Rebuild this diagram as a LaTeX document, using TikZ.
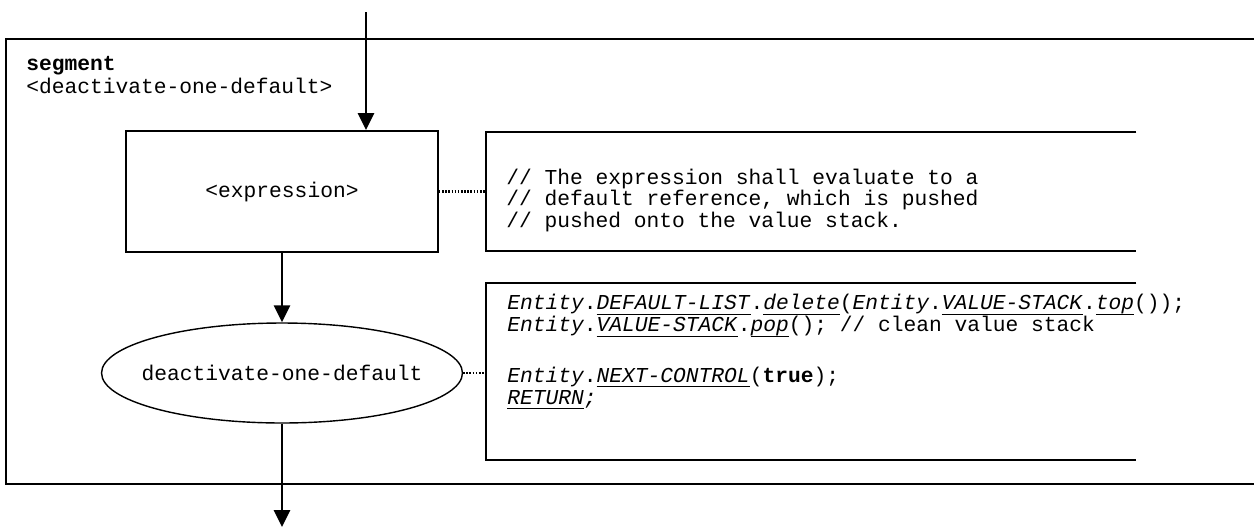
\documentclass[tikz,border=0pt]{standalone}
\usepackage{fontspec}
\setmonofont{Liberation Mono}
\usetikzlibrary{positioning,arrows.meta,shapes.geometric}

\newcommand{\ulit}[1]{\setbox0\hbox{\textit{#1}}\rlap{\smash{\rule[-3.1pt]{\wd0}{0.6pt}}}\box0}
\newcommand{\codefont}{\ttfamily\fontsize{12.1}{12.2}\selectfont\lineskiplimit=-20pt\relax}
\newcommand{\codefontwide}{\ttfamily\fontsize{12.1}{12.5}\selectfont\lineskiplimit=-20pt\relax}

\begin{document}
\frenchspacing
\begin{tikzpicture}[
			x=0.02cm, y=-0.02cm,
			font=\codefont,
			frame/.style={inner sep=0pt},
			process/.style={
				draw,
				line width=1pt,
				minimum width=6.24cm,
				minimum height=2.42cm,
				inner sep=0pt
			},
			action/.style={
				draw,
				ellipse,
				line width=0.8pt,
				minimum width=7.22cm,
				minimum height=2cm,
				inner xsep=-0.27cm,
				inner ysep=0pt
			},
			note/.style={inner sep=0pt, minimum width=13cm},
			notetext/.style={anchor=base west, align=left, inner sep=0pt},
			side/.style={line width=1pt},
			flow/.style={-{Triangle[length=0.34cm,width=0.32cm]}, line width=1.6pt},
			link/.style={line width=1.3pt, dash pattern=on 0.9pt off 0.9pt}
			]
			
			\useasboundingbox (0,0) rectangle (1254,528);
			
			\node[frame, minimum width=24.96cm, minimum height=8.9cm] (seg) at (630,261.5) {};
			\node[notetext, font=\ttfamily\fontsize{12.1}{13}\selectfont] (seglabel) at (26,93)
				{\textbf{segment}\\<deactivate-one-default>};
			
			\coordinate (in) at (366,12);
			\node[process] (expr) at (282,191.5) {<expression>};
			\node[action] (act) at (282,373) {deactivate-one-default};
			\coordinate (out) at (282,527);
			
			\node[note, minimum height=2.38cm] (c1) at (811,191.5) {};
			\node[note, minimum height=3.54cm] (c2) at (811,371.5) {};
			
			\node[notetext] (c1text) at (506,227)
				{// The expression shall evaluate to a\\
				 // default reference, which is pushed\\
				 // pushed onto the value stack.};
			\node[notetext, font=\codefontwide] (c2text) at (507,404)
				{\textit{Entity}.\ulit{DEFAULT-LIST}.\ulit{delete}(\textit{Entity}.\ulit{VALUE-STACK}.\ulit{top}());\\
				 \textit{Entity}.\ulit{VALUE-STACK}.\ulit{pop}(); // clean value stack\\[16.4pt]
				 \textit{Entity}.\ulit{NEXT-CONTROL}(\textbf{true});\\
				 \ulit{RETURN}\textit{;}};
			
			\draw[side] (seg.north east) -- (seg.north west) -- (seg.south west) -- (seg.south east);
			\draw[side] (c1.north east) -- (c1.north west) -- (c1.south west) -- (c1.south east);
			\draw[side] (c2.north east) -- (c2.north west) -- (c2.south west) -- (c2.south east);
			
			\draw[flow] (in) -- (in |- expr.north);
			\draw[flow] (expr) -- (act);
			\draw[flow] (act) -- (out);
			
			\draw[link] (expr) -- (c1);
			\draw[link] (act.east) -- (act.east -| c2.west);
			
		\end{tikzpicture}
\end{document}
